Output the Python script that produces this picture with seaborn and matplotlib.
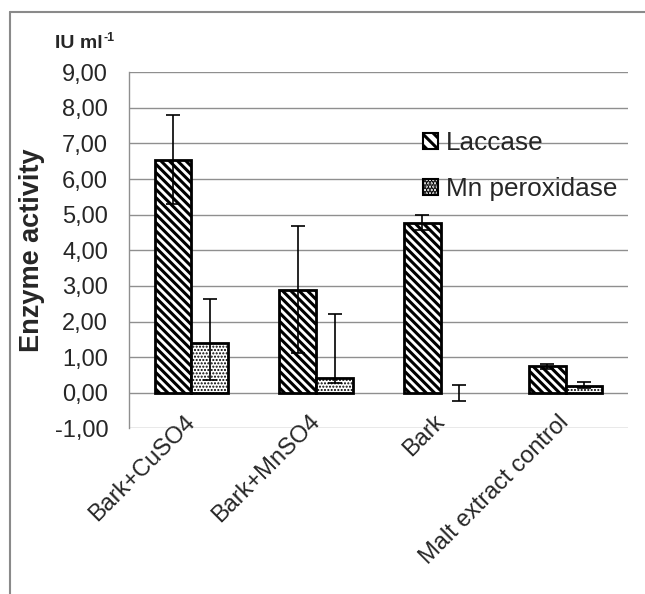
import pandas as pd
import seaborn as sns
import matplotlib.pyplot as plt
from matplotlib.patches import Patch
from matplotlib.lines import Line2D
from matplotlib.ticker import FuncFormatter

# Data
categories = ['Bark+CuSO4', 'Bark+MnSO4', 'Bark', 'Malt extract control']
enzymes = ['Laccase', 'Mn peroxidase']
laccase = [6.55, 2.88, 4.77, 0.75]
laccase_err_lo = [1.24, 1.77, 0.19, 0.09]
laccase_err_hi = [1.24, 1.81, 0.21, 0.06]
mnp = [1.40, 0.40, 0.00, 0.20]
mnp_err_lo = [1.03, 0.12, 0.22, 0.08]
mnp_err_hi = [1.23, 1.81, 0.22, 0.10]

df = pd.DataFrame({
    'Treatment': categories * 2,
    'Enzyme': [enzymes[0]] * 4 + [enzymes[1]] * 4,
    'Activity': laccase + mnp,
})

sns.set_style('white')
plt.rcParams['font.family'] = ['Liberation Sans', 'DejaVu Sans']
plt.rcParams['hatch.linewidth'] = 2.2

fig = plt.figure(figsize=(6.45, 5.94), dpi=100)
ax = fig.add_axes([129 / 645, 1 - 428.3 / 594, 499 / 645, 356 / 594])

sns.barplot(data=df, x='Treatment', y='Activity', hue='Enzyme', order=categories,
            hue_order=enzymes, palette=['white', 'white'], edgecolor='black',
            linewidth=2, width=0.59, legend=False, ax=ax, zorder=3)

hatches = ['\\\\\\\\', '.....']
errs = [(laccase_err_lo, laccase_err_hi), (mnp_err_lo, mnp_err_hi)]
values = [laccase, mnp]
bar_conts = list(ax.containers)
for i, cont in enumerate(bar_conts):
    xs = []
    for bar in cont:
        bar.set_hatch(hatches[i])
        if i == 1 and hasattr(bar, 'set_hatch_linewidth'):
            bar.set_hatch_linewidth(1.0)
        if bar.get_height() == 0:
            bar.set_linewidth(0)
        xs.append(bar.get_x() + bar.get_width() / 2)
    ax.errorbar(xs, values[i], yerr=[errs[i][0], errs[i][1]], fmt='none',
                ecolor='black', elinewidth=1.2, capsize=5, capthick=1.2, zorder=4)

ax.set_xlim(-0.5, 3.5)
ax.set_ylim(-1, 9)
ax.set_yticks(range(-1, 10))
ax.yaxis.set_major_formatter(FuncFormatter(lambda v, p: f'{v:.2f}'.replace('.', ',')))
ax.grid(axis='y', color='#8f8f8f', linewidth=1)
ax.set_axisbelow(True)
for s in ['top', 'right', 'bottom']:
    ax.spines[s].set_visible(False)
ax.spines['left'].set_color('#8f8f8f')
ax.spines['left'].set_linewidth(1)

ax.tick_params(axis='y', length=0, pad=15, labelsize=17)
ax.tick_params(axis='x', length=0, pad=-7, labelsize=17)
plt.setp(ax.get_xticklabels(), rotation=45, ha='right', va='center', rotation_mode='anchor')
ax.set_xlabel('')
ax.set_ylabel('')

fig.text(32 / 645, 1 - 250 / 594, 'Enzyme activity', rotation=90, ha='center', va='center',
         fontsize=19.5, fontweight='bold')

# unit label with superscript placed right after the main text
unit = fig.text(55 / 645, 1 - 44 / 594, 'IU ml', ha='left', va='center',
                fontsize=14, fontweight='bold')
bb = unit.get_window_extent(renderer=fig.canvas.get_renderer())
fig.text(bb.x1 / fig.bbox.width + 1 / 645, 1 - 38 / 594, '-1', ha='left', va='center',
         fontsize=9, fontweight='bold')

# Legend
handles = [Patch(facecolor='white', edgecolor='black', hatch=h, linewidth=1.5) for h in ['\\\\\\', '.....']]
ax.legend(handles, enzymes, loc='upper left', bbox_to_anchor=(0.59, 0.835), frameon=False,
          fontsize=18.8, handlelength=0.55, handleheight=0.55, handletextpad=0.3,
          labelspacing=0.85, borderpad=0, borderaxespad=0)

# outer frame
fig.add_artist(Line2D([10 / 645, 10 / 645], [0, 1 - 12 / 594], color='#8a8a8a', linewidth=1.5))
fig.add_artist(Line2D([10 / 645, 1], [1 - 12 / 594, 1 - 12 / 594], color='#8a8a8a', linewidth=1.5))

fig.savefig('out.png', dpi=100)
